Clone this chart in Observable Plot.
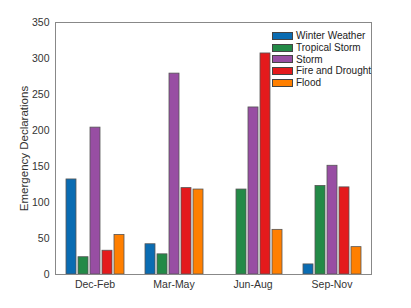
<!DOCTYPE html>
<html>
<head>
<meta charset="utf-8">
<script src="https://cdn.jsdelivr.net/npm/d3@7"></script>
<script src="https://cdn.jsdelivr.net/npm/@observablehq/plot@0.6"></script>
<style>
  html, body { margin: 0; padding: 0; background: #fff; }
  #wrap { position: relative; width: 411px; height: 308px; font-family: "Liberation Sans", Arial, sans-serif; }
  #legend { position: absolute; left: 272px; top: 30px; font-size: 10px; color: #222; }
  #legend .row { display: flex; align-items: center; height: 11.7px; }
  #legend .sw { width: 21px; height: 8px; border: 1px solid #444; margin-right: 3px; box-sizing: border-box; }
  g[aria-label="y-axis label"] text { font-size: 11.5px; }
</style>
</head>
<body>
<div id="wrap"><div id="legend"></div></div>
<script>
const seasons = ["Dec-Feb", "Mar-May", "Jun-Aug", "Sep-Nov"];
const series = ["Winter Weather", "Tropical Storm", "Storm", "Fire and Drought", "Flood"];
const colors = ["#0a6cb2", "#238a47", "#984ea3", "#e41a1c", "#ff7f00"];
const winterWeather = [132, 42, 0, 14];
const tropicalStorm = [24, 28, 118, 123];
const storm = [204, 279, 232, 151];
const fireAndDrought = [33, 120, 307, 121];
const flood = [55, 118, 62, 38];
const yTicks = [0, 50, 100, 150, 200, 250, 300, 350];

const valuesBySeries = [winterWeather, tropicalStorm, storm, fireAndDrought, flood];
const data = [];
seasons.forEach((s, i) => series.forEach((k, j) => data.push({season: s, series: k, value: valuesBySeries[j][i]})));

const chart = Plot.plot({
  width: 411,
  height: 308,
  marginLeft: 54,
  marginRight: 39,
  marginTop: 22,
  marginBottom: 34,
  style: {fontFamily: "'Liberation Sans', Arial, sans-serif", fontSize: "10.5px", color: "#333", background: "#fff"},
  fx: {domain: seasons, padding: 0, label: null, axis: "bottom", tickSize: 0, tickPadding: 6},
  x: {domain: series, paddingInner: 0.18, paddingOuter: 0.85, axis: null},
  y: {domain: [0, 350], ticks: yTicks, tickSize: 0, tickPadding: 6, label: "Emergency Declarations", labelAnchor: "center", labelOffset: 36, labelArrow: "none"},
  color: {domain: series, range: colors},
  marks: [
    Plot.barY(data.filter(d => d.value > 0), {fx: "season", x: "series", y: "value", fill: "series", stroke: "#555", strokeWidth: 0.8}),
    Plot.frame({facet: "super", stroke: "#888"})
  ]
});
document.getElementById("wrap").prepend(chart);

const leg = document.getElementById("legend");
series.forEach((k, j) => {
  const row = document.createElement("div");
  row.className = "row";
  const sw = document.createElement("div");
  sw.className = "sw";
  sw.style.background = colors[j];
  const t = document.createElement("span");
  t.textContent = k;
  row.append(sw, t);
  leg.append(row);
});
</script>
</body>
</html>
